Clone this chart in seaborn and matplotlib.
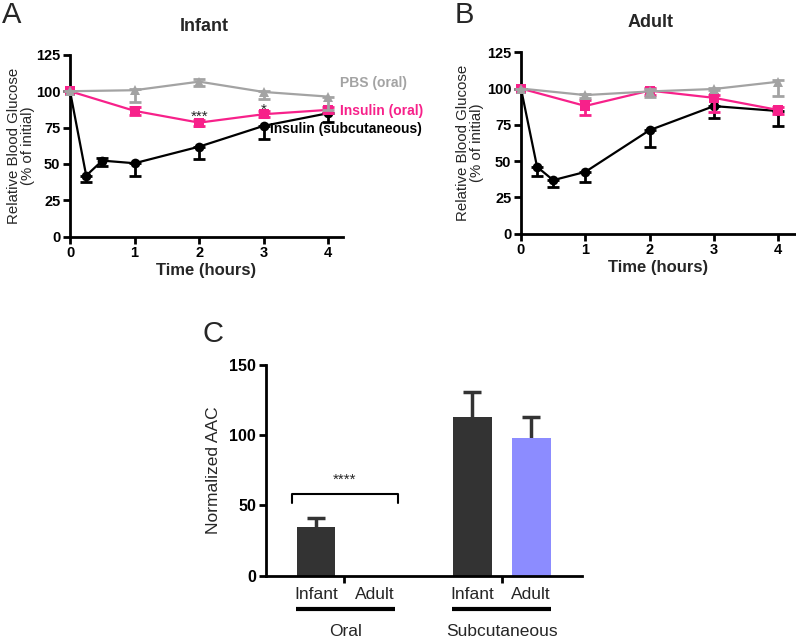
import numpy as np
import pandas as pd
import seaborn as sns
import matplotlib.pyplot as plt

# time points (hours)
times_sc = [0, 0.25, 0.5, 1, 2, 3, 4]
times_oral = [0, 1, 2, 3, 4]

# infant, relative blood glucose (% of initial)
infant_sc = [100, 42, 52.3, 50.5, 61.9, 76.2, 84.9]
infant_sc_lo = [0, 4.2, 3.7, 8.7, 8.7, 9.2, 6.2]
infant_sc_hi = [0, 0, 1.5, 0, 0, 0, 0]
infant_oral = [100, 86.5, 78.4, 84.2, 87.2]
infant_oral_lo = [0, 3, 2, 2, 2]
infant_oral_hi = [0, 3, 2, 2, 2]
infant_pbs = [100, 100.7, 106.6, 99.5, 96.3]
infant_pbs_lo = [0, 8, 3, 5, 9]
infant_pbs_hi = [0, 1, 1.5, 1, 0]

# adult
adult_sc = [100, 46, 36.8, 42.5, 71.3, 87.9, 84.5]
adult_sc_lo = [0, 6.4, 4.6, 6.9, 11.5, 8.5, 10.2]
adult_sc_hi = [0, 0, 0, 0, 0, 0, 0]
adult_oral = [100, 88, 98.6, 93.6, 85.2]
adult_oral_lo = [0, 6.3, 3, 9.6, 3]
adult_oral_hi = [0, 4, 2, 2, 2]
adult_pbs = [100, 95.5, 98, 99.7, 104.7]
adult_pbs_lo = [0, 2, 4, 1, 9.7]
adult_pbs_hi = [0, 1, 2, 1, 1]

# panel C, normalized area above curve
aac_groups = ["Infant oral", "Adult oral", "Infant sc", "Adult sc"]
aac_pos = [0, 1, 2.65, 3.65]
aac_vals = [34.9, 0, 113.2, 98]
aac_err = [6.4, 0, 17.8, 14.8]

GRAY = "#a3a3a3"
PINK = "#f7218a"
BLACK = "#000000"

sns.set_theme(style="ticks")
plt.rcParams["font.family"] = ["Liberation Sans", "DejaVu Sans"]
plt.rcParams["axes.linewidth"] = 2
plt.rcParams["xtick.major.width"] = 2
plt.rcParams["ytick.major.width"] = 2
plt.rcParams["xtick.major.size"] = 5
plt.rcParams["ytick.major.size"] = 5
plt.rcParams["xtick.color"] = "black"
plt.rcParams["ytick.color"] = "black"
plt.rcParams["axes.edgecolor"] = "black"

fig = plt.figure(figsize=(7.96, 6.38), dpi=100)
axA = fig.add_axes([0.088, 0.629, 0.343, 0.285])
axB = fig.add_axes([0.6545, 0.634, 0.345, 0.284])
axC = fig.add_axes([0.334, 0.0976, 0.397, 0.3303])


def time_panel(ax, series, xmax, ylab_x):
    for t, y, lo, hi, color, marker, ms in series:
        df = pd.DataFrame({"time": t, "value": y})
        sns.lineplot(data=df, x="time", y="value", color=color, marker=marker,
                     markersize=ms, markeredgewidth=0, linewidth=1.6,
                     ax=ax, clip_on=False, zorder=3)
        ax.errorbar(t, y, yerr=[lo, hi], fmt="none", ecolor=color,
                    elinewidth=2, capsize=4, capthick=2, clip_on=False, zorder=3)
    ax.set_xlim(0, xmax)
    ax.set_ylim(0, 125)
    ax.set_xticks([0, 1, 2, 3, 4])
    ax.set_yticks([0, 25, 50, 75, 100, 125])
    ax.tick_params(labelsize=10.5, pad=2)
    for lab in ax.get_xticklabels() + ax.get_yticklabels():
        lab.set_fontweight("bold")
    ax.set_xlabel("Time (hours)", fontsize=12, fontweight="bold", labelpad=2)
    ax.set_ylabel("Relative Blood Glucose\n(% of initial)", fontsize=10.8,
                  linespacing=1.0)
    ax.yaxis.set_label_coords(ylab_x, 0.5)
    sns.despine(ax=ax)


time_panel(axA, [
    (times_sc, infant_sc, infant_sc_lo, infant_sc_hi, BLACK, "o", 7),
    (times_oral, infant_oral, infant_oral_lo, infant_oral_hi, PINK, "s", 6.5),
    (times_oral, infant_pbs, infant_pbs_lo, infant_pbs_hi, GRAY, "^", 7),
], 4.23, -0.128)
time_panel(axB, [
    (times_sc, adult_sc, adult_sc_lo, adult_sc_hi, BLACK, "o", 7),
    (times_oral, adult_oral, adult_oral_lo, adult_oral_hi, PINK, "s", 6.5),
    (times_oral, adult_pbs, adult_pbs_lo, adult_pbs_hi, GRAY, "^", 7),
], 4.27, -0.133)

# series labels and stars in panel A
axA.text(4.19, 105.7, "PBS (oral)", color=GRAY, fontsize=10,
         fontweight="bold", va="center", ha="left", clip_on=False)
axA.text(4.19, 86.5, "Insulin (oral)", color=PINK, fontsize=10,
         fontweight="bold", va="center", ha="left", clip_on=False)
axA.text(3.1, 74, "Insulin (subcutaneous)", color=BLACK, fontsize=10,
         fontweight="bold", va="center", ha="left", clip_on=False)
axA.text(2, 82.5, "***", ha="center", va="center", fontsize=11)
axA.text(3, 87.5, "*", ha="center", va="center", fontsize=11)

# panel C bars
bar_df = pd.DataFrame({"pos": aac_pos, "val": aac_vals, "group": aac_groups})
palette = {"Infant oral": "#333333", "Adult oral": "#333333",
           "Infant sc": "#333333", "Adult sc": "#8c8cff"}
sns.barplot(data=bar_df, x="pos", y="val", hue="group", palette=palette,
            native_scale=True, dodge=False, width=0.66, legend=False,
            saturation=1, edgecolor="none", ax=axC)
# upper-only error bars
for p, v, e in zip(aac_pos, aac_vals, aac_err):
    if e > 0:
        axC.vlines(p, v, v + e, color="#333333", lw=2.5, zorder=0)
        axC.hlines(v + e, p - 0.15, p + 0.15, color="#333333", lw=2.5, zorder=0)
axC.set_xlim(-0.85, 4.51)
axC.set_ylim(0, 150)
axC.set_yticks([0, 50, 100, 150])
axC.set_xticks([0.475, 3.15])
axC.set_xticklabels(["", ""])
axC.tick_params(labelsize=11.5, pad=2)
for lab in axC.get_yticklabels():
    lab.set_fontweight("bold")
axC.set_xlabel("")
axC.set_ylabel("Normalized AAC", fontsize=12.5, labelpad=6)
sns.despine(ax=axC)

# significance bracket
axC.plot([-0.41, -0.41, 1.39, 1.39], [51.5, 58.2, 58.2, 51.5], color="black",
         lw=1.5, clip_on=False)
axC.text(0.49, 63, "****", ha="center", va="bottom", fontsize=11)

# group labels under the axis
xt = axC.get_xaxis_transform()
for p, name in zip(aac_pos, ["Infant", "Adult", "Infant", "Adult"]):
    axC.text(p, -0.09, name, transform=xt, ha="center", va="center", fontsize=12.5)
for a, b, name in [(-0.34, 1.34, "Oral"), (2.31, 3.99, "Subcutaneous")]:
    axC.plot([a, b], [-0.158, -0.158], transform=xt, color="black", lw=3,
             clip_on=False, solid_capstyle="butt")
    axC.text((a + b) / 2, -0.265, name, transform=xt, ha="center", va="center",
             fontsize=12.5)

# titles and panel letters
fig.text(0.256, 0.959, "Infant", ha="center", va="center", fontsize=13, fontweight="bold")
fig.text(0.817, 0.965, "Adult", ha="center", va="center", fontsize=13, fontweight="bold")
fig.text(0.003, 0.998, "A", ha="left", va="top", fontsize=21)
fig.text(0.571, 0.998, "B", ha="left", va="top", fontsize=21)
fig.text(0.254, 0.498, "C", ha="left", va="top", fontsize=21)

fig.savefig("out.png", dpi=100)
